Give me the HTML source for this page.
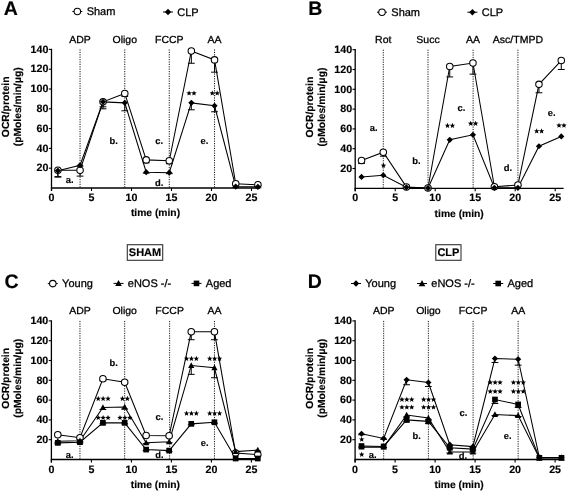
<!DOCTYPE html><html><head><meta charset="utf-8"><style>html,body{margin:0;padding:0;background:#fff;}svg{display:block;font-family:"Liberation Sans", sans-serif;filter:grayscale(1);}text{text-rendering:geometricPrecision;}.r{stroke:#000;stroke-width:0.28px;}text[font-weight=bold]{stroke:#000;stroke-width:0.15px;}</style></head><body>
<svg width="567" height="492" viewBox="0 0 567 492">
<rect width="567" height="492" fill="#fff"/>
<path d="M51.5 48.8V191" stroke="#000" stroke-width="1.3" fill="none"/>
<path d="M50.9 188H259.9" stroke="#000" stroke-width="1.3" fill="none"/>
<path d="M48.8 168.2H51.5" stroke="#000" stroke-width="1.1"/>
<text x="48.4" y="171.4" font-size="10.7" font-weight="bold" text-anchor="end">20</text>
<path d="M48.8 148.4H51.5" stroke="#000" stroke-width="1.1"/>
<text x="48.4" y="151.6" font-size="10.7" font-weight="bold" text-anchor="end">40</text>
<path d="M48.8 128.6H51.5" stroke="#000" stroke-width="1.1"/>
<text x="48.4" y="131.8" font-size="10.7" font-weight="bold" text-anchor="end">60</text>
<path d="M48.8 108.8H51.5" stroke="#000" stroke-width="1.1"/>
<text x="48.4" y="112" font-size="10.7" font-weight="bold" text-anchor="end">80</text>
<path d="M48.8 89H51.5" stroke="#000" stroke-width="1.1"/>
<text x="48.4" y="92.2" font-size="10.7" font-weight="bold" text-anchor="end">100</text>
<path d="M48.8 69.2H51.5" stroke="#000" stroke-width="1.1"/>
<text x="48.4" y="72.4" font-size="10.7" font-weight="bold" text-anchor="end">120</text>
<path d="M48.8 49.4H51.5" stroke="#000" stroke-width="1.1"/>
<text x="48.4" y="52.6" font-size="10.7" font-weight="bold" text-anchor="end">140</text>
<path d="M51.5 188V191" stroke="#000" stroke-width="1.1"/>
<text x="51.5" y="201.1" font-size="10.7" font-weight="bold" text-anchor="middle">0</text>
<path d="M91.5 188V191" stroke="#000" stroke-width="1.1"/>
<text x="91.5" y="201.1" font-size="10.7" font-weight="bold" text-anchor="middle">5</text>
<path d="M131.5 188V191" stroke="#000" stroke-width="1.1"/>
<text x="131.5" y="201.1" font-size="10.7" font-weight="bold" text-anchor="middle">10</text>
<path d="M171.5 188V191" stroke="#000" stroke-width="1.1"/>
<text x="171.5" y="201.1" font-size="10.7" font-weight="bold" text-anchor="middle">15</text>
<path d="M211.5 188V191" stroke="#000" stroke-width="1.1"/>
<text x="211.5" y="201.1" font-size="10.7" font-weight="bold" text-anchor="middle">20</text>
<path d="M251.5 188V191" stroke="#000" stroke-width="1.1"/>
<text x="251.5" y="201.1" font-size="10.7" font-weight="bold" text-anchor="middle">25</text>
<text x="155.5" y="216.3" font-size="10.3" font-weight="bold" text-anchor="middle">time (min)</text>
<text transform="translate(9 106.82) rotate(-90)" font-size="10.3" font-weight="bold" text-anchor="middle">OCR/protein</text>
<text transform="translate(21.3 106.82) rotate(-90)" font-size="10.3" font-weight="bold" text-anchor="middle">(pMoles/min/&#956;g)</text>
<text x="3.8" y="15.4" font-size="19.5" font-weight="bold" text-anchor="start">A</text>
<path d="M80.06 49.4V188" stroke="#000" stroke-width="0.9" stroke-dasharray="1.2 1.2" fill="none"/>
<text transform="translate(80.06 42.5) scale(1.03 1)" font-size="10.2" text-anchor="middle" class="r">ADP</text>
<path d="M124.78 49.4V188" stroke="#000" stroke-width="0.9" stroke-dasharray="1.2 1.2" fill="none"/>
<text transform="translate(124.78 42.5) scale(1.03 1)" font-size="10.2" text-anchor="middle" class="r">Oligo</text>
<path d="M169.26 49.4V188" stroke="#000" stroke-width="0.9" stroke-dasharray="1.2 1.2" fill="none"/>
<text transform="translate(169.26 42.5) scale(1.03 1)" font-size="10.2" text-anchor="middle" class="r">FCCP</text>
<path d="M214.54 49.4V188" stroke="#000" stroke-width="0.9" stroke-dasharray="1.2 1.2" fill="none"/>
<text transform="translate(214.54 42.5) scale(1.03 1)" font-size="10.2" text-anchor="middle" class="r">AA</text>
<path d="M72.35 11.5H82.35" stroke="#000" stroke-width="1"/>
<circle cx="77.35" cy="11.5" r="3.25" fill="#fff" stroke="#000" stroke-width="1.05"/>
<text x="86.65" y="15.1" font-size="11" font-weight="normal" text-anchor="start" class="r">Sham</text>
<path d="M163 12H173" stroke="#000" stroke-width="1"/>
<path d="M168 8.8L171.2 12L168 15.2L164.8 12Z" fill="#000"/>
<text x="177.3" y="15.6" font-size="11" font-weight="normal" text-anchor="start" class="r">CLP</text>
<path d="M57.9 170.18L80.06 170.18L103.02 101.87L124.78 93.45L146.22 159.88L169.26 160.78L191.34 50.98L214.54 59.89L235.74 183.84L257.9 184.83" stroke="#000" stroke-width="1.05" fill="none"/>
<path d="M57.9 170.18V177.11M54.5 177.11H61.3" stroke="#000" stroke-width="1" fill="none"/>
<path d="M80.06 170.18V176.12M76.66 176.12H83.46" stroke="#000" stroke-width="1" fill="none"/>
<path d="M103.02 101.87V108.8M99.62 108.8H106.42" stroke="#000" stroke-width="1" fill="none"/>
<path d="M124.78 93.45V96.42M121.38 96.42H128.18" stroke="#000" stroke-width="1" fill="none"/>
<path d="M146.22 159.88V162.85M142.82 162.85H149.62" stroke="#000" stroke-width="1" fill="none"/>
<path d="M169.26 160.78V163.75M165.86 163.75H172.66" stroke="#000" stroke-width="1" fill="none"/>
<path d="M191.34 50.98V63.26M187.94 63.26H194.74" stroke="#000" stroke-width="1" fill="none"/>
<path d="M214.54 59.89V72.17M211.14 72.17H217.94" stroke="#000" stroke-width="1" fill="none"/>
<path d="M235.74 183.84V184.83M232.34 184.83H239.14" stroke="#000" stroke-width="1" fill="none"/>
<path d="M257.9 184.83V185.82M254.5 185.82H261.3" stroke="#000" stroke-width="1" fill="none"/>
<path d="M57.9 170.68L80.06 165.23L103.02 101.87L124.78 102.86L146.22 172.16L169.26 172.66L191.34 102.86L214.54 105.83L235.74 186.61L257.9 186.81" stroke="#000" stroke-width="1.05" fill="none"/>
<path d="M57.9 170.68V176.62M54.5 176.62H61.3" stroke="#000" stroke-width="1" fill="none"/>
<path d="M80.06 165.23V166.22M76.66 166.22H83.46" stroke="#000" stroke-width="1" fill="none"/>
<path d="M103.02 101.87V106.82M99.62 106.82H106.42" stroke="#000" stroke-width="1" fill="none"/>
<path d="M124.78 102.86V110.78M121.38 110.78H128.18" stroke="#000" stroke-width="1" fill="none"/>
<path d="M146.22 172.16V173.15M142.82 173.15H149.62" stroke="#000" stroke-width="1" fill="none"/>
<path d="M169.26 172.66V173.65M165.86 173.65H172.66" stroke="#000" stroke-width="1" fill="none"/>
<path d="M191.34 102.86V109.79M187.94 109.79H194.74" stroke="#000" stroke-width="1" fill="none"/>
<path d="M214.54 105.83V111.77M211.14 111.77H217.94" stroke="#000" stroke-width="1" fill="none"/>
<path d="M235.74 186.61V187.6M232.34 187.6H239.14" stroke="#000" stroke-width="1" fill="none"/>
<path d="M257.9 186.81V187.8M254.5 187.8H261.3" stroke="#000" stroke-width="1" fill="none"/>
<circle cx="57.9" cy="170.18" r="3.25" fill="#fff" stroke="#000" stroke-width="1.05"/>
<circle cx="80.06" cy="170.18" r="3.25" fill="#fff" stroke="#000" stroke-width="1.05"/>
<circle cx="103.02" cy="101.87" r="3.25" fill="#fff" stroke="#000" stroke-width="1.05"/>
<circle cx="124.78" cy="93.45" r="3.25" fill="#fff" stroke="#000" stroke-width="1.05"/>
<circle cx="146.22" cy="159.88" r="3.25" fill="#fff" stroke="#000" stroke-width="1.05"/>
<circle cx="169.26" cy="160.78" r="3.25" fill="#fff" stroke="#000" stroke-width="1.05"/>
<circle cx="191.34" cy="50.98" r="3.25" fill="#fff" stroke="#000" stroke-width="1.05"/>
<circle cx="214.54" cy="59.89" r="3.25" fill="#fff" stroke="#000" stroke-width="1.05"/>
<circle cx="235.74" cy="183.84" r="3.25" fill="#fff" stroke="#000" stroke-width="1.05"/>
<circle cx="257.9" cy="184.83" r="3.25" fill="#fff" stroke="#000" stroke-width="1.05"/>
<path d="M57.9 167.58L61 170.68L57.9 173.78L54.8 170.68Z" fill="#000"/>
<path d="M80.06 162.13L83.16 165.23L80.06 168.33L76.96 165.23Z" fill="#000"/>
<path d="M103.02 98.77L106.12 101.87L103.02 104.97L99.92 101.87Z" fill="#000"/>
<path d="M124.78 99.76L127.88 102.86L124.78 105.96L121.68 102.86Z" fill="#000"/>
<path d="M146.22 169.06L149.32 172.16L146.22 175.26L143.12 172.16Z" fill="#000"/>
<path d="M169.26 169.56L172.36 172.66L169.26 175.75L166.16 172.66Z" fill="#000"/>
<path d="M191.34 99.76L194.44 102.86L191.34 105.96L188.24 102.86Z" fill="#000"/>
<path d="M214.54 102.73L217.64 105.83L214.54 108.93L211.44 105.83Z" fill="#000"/>
<path d="M235.74 183.51L238.84 186.61L235.74 189.71L232.64 186.61Z" fill="#000"/>
<path d="M257.9 183.71L261 186.81L257.9 189.91L254.8 186.81Z" fill="#000"/>
<path d="M189.09 90.45L189.82 92.29L191.8 92.42L190.28 93.69L190.77 95.61L189.09 94.55L187.41 95.61L187.9 93.69L186.38 92.42L188.36 92.29ZM193.99 90.45L194.72 92.29L196.7 92.42L195.18 93.69L195.67 95.61L193.99 94.55L192.31 95.61L192.8 93.69L191.28 92.42L193.26 92.29Z" fill="#000"/>
<path d="M212.29 90.45L213.02 92.29L215 92.42L213.48 93.69L213.97 95.61L212.29 94.55L210.61 95.61L211.1 93.69L209.58 92.42L211.56 92.29ZM217.19 90.45L217.92 92.29L219.9 92.42L218.38 93.69L218.87 95.61L217.19 94.55L215.51 95.61L216 93.69L214.48 92.42L216.46 92.29Z" fill="#000"/>
<text x="69.6" y="182.5" font-size="9.4" font-weight="bold" text-anchor="middle">a.</text>
<text x="113.6" y="144.3" font-size="9.4" font-weight="bold" text-anchor="middle">b.</text>
<text x="159.2" y="144.3" font-size="9.4" font-weight="bold" text-anchor="middle">c.</text>
<text x="159.2" y="186" font-size="9.4" font-weight="bold" text-anchor="middle">d.</text>
<text x="204.4" y="144" font-size="9.4" font-weight="bold" text-anchor="middle">e.</text>
<path d="M355.2 49.1V191.3" stroke="#000" stroke-width="1.3" fill="none"/>
<path d="M354.6 188.3H563.6" stroke="#000" stroke-width="1.3" fill="none"/>
<path d="M352.5 168.5H355.2" stroke="#000" stroke-width="1.1"/>
<text x="352.1" y="171.7" font-size="10.7" font-weight="bold" text-anchor="end">20</text>
<path d="M352.5 148.7H355.2" stroke="#000" stroke-width="1.1"/>
<text x="352.1" y="151.9" font-size="10.7" font-weight="bold" text-anchor="end">40</text>
<path d="M352.5 128.9H355.2" stroke="#000" stroke-width="1.1"/>
<text x="352.1" y="132.1" font-size="10.7" font-weight="bold" text-anchor="end">60</text>
<path d="M352.5 109.1H355.2" stroke="#000" stroke-width="1.1"/>
<text x="352.1" y="112.3" font-size="10.7" font-weight="bold" text-anchor="end">80</text>
<path d="M352.5 89.3H355.2" stroke="#000" stroke-width="1.1"/>
<text x="352.1" y="92.5" font-size="10.7" font-weight="bold" text-anchor="end">100</text>
<path d="M352.5 69.5H355.2" stroke="#000" stroke-width="1.1"/>
<text x="352.1" y="72.7" font-size="10.7" font-weight="bold" text-anchor="end">120</text>
<path d="M352.5 49.7H355.2" stroke="#000" stroke-width="1.1"/>
<text x="352.1" y="52.9" font-size="10.7" font-weight="bold" text-anchor="end">140</text>
<path d="M355.2 188.3V191.3" stroke="#000" stroke-width="1.1"/>
<text x="355.2" y="201.4" font-size="10.7" font-weight="bold" text-anchor="middle">0</text>
<path d="M395.2 188.3V191.3" stroke="#000" stroke-width="1.1"/>
<text x="395.2" y="201.4" font-size="10.7" font-weight="bold" text-anchor="middle">5</text>
<path d="M435.2 188.3V191.3" stroke="#000" stroke-width="1.1"/>
<text x="435.2" y="201.4" font-size="10.7" font-weight="bold" text-anchor="middle">10</text>
<path d="M475.2 188.3V191.3" stroke="#000" stroke-width="1.1"/>
<text x="475.2" y="201.4" font-size="10.7" font-weight="bold" text-anchor="middle">15</text>
<path d="M515.2 188.3V191.3" stroke="#000" stroke-width="1.1"/>
<text x="515.2" y="201.4" font-size="10.7" font-weight="bold" text-anchor="middle">20</text>
<path d="M555.2 188.3V191.3" stroke="#000" stroke-width="1.1"/>
<text x="555.2" y="201.4" font-size="10.7" font-weight="bold" text-anchor="middle">25</text>
<text x="459.2" y="216.6" font-size="10.3" font-weight="bold" text-anchor="middle">time (min)</text>
<text transform="translate(312.7 107.12) rotate(-90)" font-size="10.3" font-weight="bold" text-anchor="middle">OCR/protein</text>
<text transform="translate(325 107.12) rotate(-90)" font-size="10.3" font-weight="bold" text-anchor="middle">(pMoles/min/&#956;g)</text>
<text x="308.3" y="15.4" font-size="19.5" font-weight="bold" text-anchor="start">B</text>
<path d="M383.28 49.7V188.3" stroke="#000" stroke-width="0.9" stroke-dasharray="1.2 1.2" fill="none"/>
<text transform="translate(383.28 42.5) scale(1.03 1)" font-size="10.2" text-anchor="middle" class="r">Rot</text>
<path d="M428 49.7V188.3" stroke="#000" stroke-width="0.9" stroke-dasharray="1.2 1.2" fill="none"/>
<text transform="translate(428 42.5) scale(1.03 1)" font-size="10.2" text-anchor="middle" class="r">Succ</text>
<path d="M473.12 49.7V188.3" stroke="#000" stroke-width="0.9" stroke-dasharray="1.2 1.2" fill="none"/>
<text transform="translate(473.12 42.5) scale(1.03 1)" font-size="10.2" text-anchor="middle" class="r">AA</text>
<path d="M517.92 49.7V188.3" stroke="#000" stroke-width="0.9" stroke-dasharray="1.2 1.2" fill="none"/>
<text transform="translate(517.92 42.5) scale(1.03 1)" font-size="10.2" text-anchor="middle" class="r">Asc/TMPD</text>
<path d="M377 12.2H387" stroke="#000" stroke-width="1"/>
<circle cx="382" cy="12.2" r="3.25" fill="#fff" stroke="#000" stroke-width="1.05"/>
<text x="391.3" y="15.8" font-size="11" font-weight="normal" text-anchor="start" class="r">Sham</text>
<path d="M467.4 12.2H477.4" stroke="#000" stroke-width="1"/>
<path d="M472.4 9L475.6 12.2L472.4 15.4L469.2 12.2Z" fill="#000"/>
<text x="481.7" y="15.8" font-size="11" font-weight="normal" text-anchor="start" class="r">CLP</text>
<path d="M361.52 160.58L383.28 152.26L406.4 186.91L428 188L449.76 66.43L472.96 62.97L494.4 186.81L517.92 185.03L538.96 84.35L561.28 60.59" stroke="#000" stroke-width="1.05" fill="none"/>
<path d="M361.52 160.58V163.55M358.12 163.55H364.92" stroke="#000" stroke-width="1" fill="none"/>
<path d="M383.28 152.26V156.22M379.88 156.22H386.68" stroke="#000" stroke-width="1" fill="none"/>
<path d="M406.4 186.91V187.41M403 187.41H409.8" stroke="#000" stroke-width="1" fill="none"/>
<path d="M428 188V188.5M424.6 188.5H431.4" stroke="#000" stroke-width="1" fill="none"/>
<path d="M449.76 66.43V76.93M446.36 76.93H453.16" stroke="#000" stroke-width="1" fill="none"/>
<path d="M472.96 62.97V74.15M469.56 74.15H476.36" stroke="#000" stroke-width="1" fill="none"/>
<path d="M494.4 186.81V187.31M491 187.31H497.8" stroke="#000" stroke-width="1" fill="none"/>
<path d="M517.92 185.03V185.53M514.52 185.53H521.32" stroke="#000" stroke-width="1" fill="none"/>
<path d="M538.96 84.35V92.77M535.56 92.77H542.36" stroke="#000" stroke-width="1" fill="none"/>
<path d="M561.28 60.59V69.5M557.88 69.5H564.68" stroke="#000" stroke-width="1" fill="none"/>
<path d="M361.52 176.92L383.28 175.23L406.4 187.31L428 188.1L449.76 139.79L472.96 134.84L494.4 187.81L517.92 187.81L538.96 146.23L561.28 136.42" stroke="#000" stroke-width="1.05" fill="none"/>
<circle cx="361.52" cy="160.58" r="3.25" fill="#fff" stroke="#000" stroke-width="1.05"/>
<circle cx="383.28" cy="152.26" r="3.25" fill="#fff" stroke="#000" stroke-width="1.05"/>
<circle cx="406.4" cy="186.91" r="3.25" fill="#fff" stroke="#000" stroke-width="1.05"/>
<circle cx="428" cy="188" r="3.25" fill="#fff" stroke="#000" stroke-width="1.05"/>
<circle cx="449.76" cy="66.43" r="3.25" fill="#fff" stroke="#000" stroke-width="1.05"/>
<circle cx="472.96" cy="62.97" r="3.25" fill="#fff" stroke="#000" stroke-width="1.05"/>
<circle cx="494.4" cy="186.81" r="3.25" fill="#fff" stroke="#000" stroke-width="1.05"/>
<circle cx="517.92" cy="185.03" r="3.25" fill="#fff" stroke="#000" stroke-width="1.05"/>
<circle cx="538.96" cy="84.35" r="3.25" fill="#fff" stroke="#000" stroke-width="1.05"/>
<circle cx="561.28" cy="60.59" r="3.25" fill="#fff" stroke="#000" stroke-width="1.05"/>
<path d="M361.52 173.82L364.62 176.92L361.52 180.02L358.42 176.92Z" fill="#000"/>
<path d="M383.28 172.13L386.38 175.23L383.28 178.33L380.18 175.23Z" fill="#000"/>
<path d="M406.4 184.21L409.5 187.31L406.4 190.41L403.3 187.31Z" fill="#000"/>
<path d="M428 185L431.1 188.1L428 191.2L424.9 188.1Z" fill="#000"/>
<path d="M449.76 136.69L452.86 139.79L449.76 142.89L446.66 139.79Z" fill="#000"/>
<path d="M472.96 131.74L476.06 134.84L472.96 137.94L469.86 134.84Z" fill="#000"/>
<path d="M494.4 184.71L497.5 187.81L494.4 190.91L491.3 187.81Z" fill="#000"/>
<path d="M517.92 184.71L521.02 187.81L517.92 190.91L514.82 187.81Z" fill="#000"/>
<path d="M538.96 143.13L542.06 146.23L538.96 149.33L535.86 146.23Z" fill="#000"/>
<path d="M561.28 133.32L564.38 136.42L561.28 139.52L558.18 136.42Z" fill="#000"/>
<path d="M383.48 162.75L384.21 164.59L386.19 164.72L384.67 165.99L385.16 167.91L383.48 166.85L381.8 167.91L382.29 165.99L380.77 164.72L382.75 164.59Z" fill="#000"/>
<path d="M447.51 122.85L448.24 124.69L450.22 124.82L448.7 126.09L449.19 128.01L447.51 126.95L445.83 128.01L446.32 126.09L444.8 124.82L446.78 124.69ZM452.41 122.85L453.14 124.69L455.12 124.82L453.6 126.09L454.09 128.01L452.41 126.95L450.73 128.01L451.22 126.09L449.7 124.82L451.68 124.69Z" fill="#000"/>
<path d="M470.71 120.75L471.44 122.59L473.42 122.72L471.9 123.99L472.39 125.91L470.71 124.85L469.03 125.91L469.52 123.99L468 122.72L469.98 122.59ZM475.61 120.75L476.34 122.59L478.32 122.72L476.8 123.99L477.29 125.91L475.61 124.85L473.93 125.91L474.42 123.99L472.9 122.72L474.88 122.59Z" fill="#000"/>
<path d="M536.71 128.35L537.44 130.19L539.42 130.32L537.9 131.59L538.39 133.51L536.71 132.45L535.03 133.51L535.52 131.59L534 130.32L535.98 130.19ZM541.61 128.35L542.34 130.19L544.32 130.32L542.8 131.59L543.29 133.51L541.61 132.45L539.93 133.51L540.42 131.59L538.9 130.32L540.88 130.19Z" fill="#000"/>
<path d="M559.03 122.65L559.76 124.49L561.74 124.62L560.22 125.89L560.71 127.81L559.03 126.75L557.35 127.81L557.84 125.89L556.32 124.62L558.3 124.49ZM563.93 122.65L564.66 124.49L566.64 124.62L565.12 125.89L565.61 127.81L563.93 126.75L562.25 127.81L562.74 125.89L561.22 124.62L563.2 124.49Z" fill="#000"/>
<text x="373.7" y="130.9" font-size="9.4" font-weight="bold" text-anchor="middle">a.</text>
<text x="416.4" y="163.7" font-size="9.4" font-weight="bold" text-anchor="middle">b.</text>
<text x="461.4" y="111" font-size="9.4" font-weight="bold" text-anchor="middle">c.</text>
<text x="508" y="171.4" font-size="9.4" font-weight="bold" text-anchor="middle">d.</text>
<text x="551.6" y="115.6" font-size="9.4" font-weight="bold" text-anchor="middle">e.</text>
<rect x="127.3" y="244.7" width="35.4" height="15.6" fill="#fff" stroke="#333" stroke-width="1.1"/>
<text x="145" y="256.4" font-size="11" font-weight="bold" text-anchor="middle">SHAM</text>
<rect x="435.8" y="244.7" width="25.2" height="15.6" fill="#fff" stroke="#333" stroke-width="1.1"/>
<text x="448.4" y="256.4" font-size="11" font-weight="bold" text-anchor="middle">CLP</text>
<path d="M51.4 320.3V462.5" stroke="#000" stroke-width="1.3" fill="none"/>
<path d="M50.8 459.5H259.8" stroke="#000" stroke-width="1.3" fill="none"/>
<path d="M48.7 439.7H51.4" stroke="#000" stroke-width="1.1"/>
<text x="48.3" y="442.9" font-size="10.7" font-weight="bold" text-anchor="end">20</text>
<path d="M48.7 419.9H51.4" stroke="#000" stroke-width="1.1"/>
<text x="48.3" y="423.1" font-size="10.7" font-weight="bold" text-anchor="end">40</text>
<path d="M48.7 400.1H51.4" stroke="#000" stroke-width="1.1"/>
<text x="48.3" y="403.3" font-size="10.7" font-weight="bold" text-anchor="end">60</text>
<path d="M48.7 380.3H51.4" stroke="#000" stroke-width="1.1"/>
<text x="48.3" y="383.5" font-size="10.7" font-weight="bold" text-anchor="end">80</text>
<path d="M48.7 360.5H51.4" stroke="#000" stroke-width="1.1"/>
<text x="48.3" y="363.7" font-size="10.7" font-weight="bold" text-anchor="end">100</text>
<path d="M48.7 340.7H51.4" stroke="#000" stroke-width="1.1"/>
<text x="48.3" y="343.9" font-size="10.7" font-weight="bold" text-anchor="end">120</text>
<path d="M48.7 320.9H51.4" stroke="#000" stroke-width="1.1"/>
<text x="48.3" y="324.1" font-size="10.7" font-weight="bold" text-anchor="end">140</text>
<path d="M51.4 459.5V462.5" stroke="#000" stroke-width="1.1"/>
<text x="51.4" y="472.6" font-size="10.7" font-weight="bold" text-anchor="middle">0</text>
<path d="M91.4 459.5V462.5" stroke="#000" stroke-width="1.1"/>
<text x="91.4" y="472.6" font-size="10.7" font-weight="bold" text-anchor="middle">5</text>
<path d="M131.4 459.5V462.5" stroke="#000" stroke-width="1.1"/>
<text x="131.4" y="472.6" font-size="10.7" font-weight="bold" text-anchor="middle">10</text>
<path d="M171.4 459.5V462.5" stroke="#000" stroke-width="1.1"/>
<text x="171.4" y="472.6" font-size="10.7" font-weight="bold" text-anchor="middle">15</text>
<path d="M211.4 459.5V462.5" stroke="#000" stroke-width="1.1"/>
<text x="211.4" y="472.6" font-size="10.7" font-weight="bold" text-anchor="middle">20</text>
<path d="M251.4 459.5V462.5" stroke="#000" stroke-width="1.1"/>
<text x="251.4" y="472.6" font-size="10.7" font-weight="bold" text-anchor="middle">25</text>
<text x="155.4" y="488.4" font-size="10.3" font-weight="bold" text-anchor="middle">time (min)</text>
<text transform="translate(8.9 378.32) rotate(-90)" font-size="10.3" font-weight="bold" text-anchor="middle">OCR/protein</text>
<text transform="translate(21.2 378.32) rotate(-90)" font-size="10.3" font-weight="bold" text-anchor="middle">(pMoles/min/&#956;g)</text>
<text x="4.6" y="287.5" font-size="19.5" font-weight="bold" text-anchor="start">C</text>
<path d="M79.96 320.9V459.5" stroke="#000" stroke-width="0.9" stroke-dasharray="1.2 1.2" fill="none"/>
<text transform="translate(79.96 314.1) scale(1.03 1)" font-size="10.2" text-anchor="middle" class="r">ADP</text>
<path d="M124.68 320.9V459.5" stroke="#000" stroke-width="0.9" stroke-dasharray="1.2 1.2" fill="none"/>
<text transform="translate(124.68 314.1) scale(1.03 1)" font-size="10.2" text-anchor="middle" class="r">Oligo</text>
<path d="M169.64 320.9V459.5" stroke="#000" stroke-width="0.9" stroke-dasharray="1.2 1.2" fill="none"/>
<text transform="translate(169.64 314.1) scale(1.03 1)" font-size="10.2" text-anchor="middle" class="r">FCCP</text>
<path d="M214.44 320.9V459.5" stroke="#000" stroke-width="0.9" stroke-dasharray="1.2 1.2" fill="none"/>
<text transform="translate(214.44 314.1) scale(1.03 1)" font-size="10.2" text-anchor="middle" class="r">AA</text>
<path d="M47.8 283.6H57.8" stroke="#000" stroke-width="1"/>
<circle cx="52.8" cy="283.6" r="3.25" fill="#fff" stroke="#000" stroke-width="1.05"/>
<text x="62.1" y="287.2" font-size="11" font-weight="normal" text-anchor="start" class="r">Young</text>
<path d="M113.5 283.4H123.5" stroke="#000" stroke-width="1"/>
<path d="M118.5 279.94L121.8 286.04L115.2 286.04Z" fill="#000"/>
<text x="127.8" y="287" font-size="11" font-weight="normal" text-anchor="start" class="r">eNOS -/-</text>
<path d="M191.5 283.4H201.5" stroke="#000" stroke-width="1"/>
<rect x="193.7" y="280.6" width="5.6" height="5.6" fill="#000"/>
<text x="205.8" y="287" font-size="11" font-weight="normal" text-anchor="start" class="r">Aged</text>
<path d="M57.8 434.75L79.96 437.72L102.92 378.81L124.68 382.28L146.12 435.54L169.16 435.74L191.24 331.79L214.44 331.79L235.64 453.06L257.8 454.55" stroke="#000" stroke-width="1.05" fill="none"/>
<path d="M57.8 434.75V435.74M54.4 435.74H61.2" stroke="#000" stroke-width="1" fill="none"/>
<path d="M79.96 437.72V438.71M76.56 438.71H83.36" stroke="#000" stroke-width="1" fill="none"/>
<path d="M102.92 378.81V380.8M99.52 380.8H106.32" stroke="#000" stroke-width="1" fill="none"/>
<path d="M124.68 382.28V383.27M121.28 383.27H128.08" stroke="#000" stroke-width="1" fill="none"/>
<path d="M146.12 435.54V436.53M142.72 436.53H149.52" stroke="#000" stroke-width="1" fill="none"/>
<path d="M169.16 435.74V436.73M165.76 436.73H172.56" stroke="#000" stroke-width="1" fill="none"/>
<path d="M191.24 331.79V339.71M187.84 339.71H194.64" stroke="#000" stroke-width="1" fill="none"/>
<path d="M214.44 331.79V339.71M211.04 339.71H217.84" stroke="#000" stroke-width="1" fill="none"/>
<path d="M235.64 453.06V454.06M232.24 454.06H239.04" stroke="#000" stroke-width="1" fill="none"/>
<path d="M257.8 454.55V455.54M254.4 455.54H261.2" stroke="#000" stroke-width="1" fill="none"/>
<path d="M57.8 441.19L79.96 440.69L102.92 407.52L124.68 407.03L146.12 442.67L169.16 441.68L191.24 365.45L214.44 367.83L235.64 451.58L257.8 450.1" stroke="#000" stroke-width="1.05" fill="none"/>
<path d="M57.8 441.19V442.18M54.4 442.18H61.2" stroke="#000" stroke-width="1" fill="none"/>
<path d="M79.96 440.69V441.68M76.56 441.68H83.36" stroke="#000" stroke-width="1" fill="none"/>
<path d="M102.92 407.52V409.5M99.52 409.5H106.32" stroke="#000" stroke-width="1" fill="none"/>
<path d="M124.68 407.03V409.01M121.28 409.01H128.08" stroke="#000" stroke-width="1" fill="none"/>
<path d="M146.12 442.67V443.66M142.72 443.66H149.52" stroke="#000" stroke-width="1" fill="none"/>
<path d="M169.16 441.68V442.67M165.76 442.67H172.56" stroke="#000" stroke-width="1" fill="none"/>
<path d="M191.24 365.45V374.36M187.84 374.36H194.64" stroke="#000" stroke-width="1" fill="none"/>
<path d="M214.44 367.83V377.73M211.04 377.73H217.84" stroke="#000" stroke-width="1" fill="none"/>
<path d="M235.64 451.58V452.57M232.24 452.57H239.04" stroke="#000" stroke-width="1" fill="none"/>
<path d="M257.8 450.1V451.09M254.4 451.09H261.2" stroke="#000" stroke-width="1" fill="none"/>
<path d="M57.8 442.87L79.96 442.18L102.92 422.87L124.68 422.87L146.12 449.6L169.16 450.59L191.24 423.86L214.44 422.28L235.64 458.51L257.8 458.51" stroke="#000" stroke-width="1.05" fill="none"/>
<path d="M57.8 442.87V443.86M54.4 443.86H61.2" stroke="#000" stroke-width="1" fill="none"/>
<path d="M79.96 442.18V443.17M76.56 443.17H83.36" stroke="#000" stroke-width="1" fill="none"/>
<path d="M102.92 422.87V423.86M99.52 423.86H106.32" stroke="#000" stroke-width="1" fill="none"/>
<path d="M124.68 422.87V423.86M121.28 423.86H128.08" stroke="#000" stroke-width="1" fill="none"/>
<path d="M146.12 449.6V450.59M142.72 450.59H149.52" stroke="#000" stroke-width="1" fill="none"/>
<path d="M169.16 450.59V451.58M165.76 451.58H172.56" stroke="#000" stroke-width="1" fill="none"/>
<path d="M191.24 423.86V424.85M187.84 424.85H194.64" stroke="#000" stroke-width="1" fill="none"/>
<path d="M214.44 422.28V423.27M211.04 423.27H217.84" stroke="#000" stroke-width="1" fill="none"/>
<circle cx="57.8" cy="434.75" r="3.25" fill="#fff" stroke="#000" stroke-width="1.05"/>
<circle cx="79.96" cy="437.72" r="3.25" fill="#fff" stroke="#000" stroke-width="1.05"/>
<circle cx="102.92" cy="378.81" r="3.25" fill="#fff" stroke="#000" stroke-width="1.05"/>
<circle cx="124.68" cy="382.28" r="3.25" fill="#fff" stroke="#000" stroke-width="1.05"/>
<circle cx="146.12" cy="435.54" r="3.25" fill="#fff" stroke="#000" stroke-width="1.05"/>
<circle cx="169.16" cy="435.74" r="3.25" fill="#fff" stroke="#000" stroke-width="1.05"/>
<circle cx="191.24" cy="331.79" r="3.25" fill="#fff" stroke="#000" stroke-width="1.05"/>
<circle cx="214.44" cy="331.79" r="3.25" fill="#fff" stroke="#000" stroke-width="1.05"/>
<circle cx="235.64" cy="453.06" r="3.25" fill="#fff" stroke="#000" stroke-width="1.05"/>
<circle cx="257.8" cy="454.55" r="3.25" fill="#fff" stroke="#000" stroke-width="1.05"/>
<path d="M57.8 437.93L60.9 443.67L54.7 443.67Z" fill="#000"/>
<path d="M79.96 437.44L83.06 443.17L76.86 443.17Z" fill="#000"/>
<path d="M102.92 404.27L106.02 410L99.82 410Z" fill="#000"/>
<path d="M124.68 403.77L127.78 409.51L121.58 409.51Z" fill="#000"/>
<path d="M146.12 439.42L149.22 445.15L143.02 445.15Z" fill="#000"/>
<path d="M169.16 438.43L172.26 444.16L166.06 444.16Z" fill="#000"/>
<path d="M191.24 362.19L194.34 367.93L188.14 367.93Z" fill="#000"/>
<path d="M214.44 364.57L217.54 370.31L211.34 370.31Z" fill="#000"/>
<path d="M235.64 448.32L238.74 454.06L232.54 454.06Z" fill="#000"/>
<path d="M257.8 446.84L260.9 452.58L254.7 452.58Z" fill="#000"/>
<rect x="54.95" y="440.02" width="5.7" height="5.7" fill="#000"/>
<rect x="77.11" y="439.32" width="5.7" height="5.7" fill="#000"/>
<rect x="100.07" y="420.02" width="5.7" height="5.7" fill="#000"/>
<rect x="121.83" y="420.02" width="5.7" height="5.7" fill="#000"/>
<rect x="143.27" y="446.75" width="5.7" height="5.7" fill="#000"/>
<rect x="166.31" y="447.74" width="5.7" height="5.7" fill="#000"/>
<rect x="188.39" y="421.01" width="5.7" height="5.7" fill="#000"/>
<rect x="211.59" y="419.43" width="5.7" height="5.7" fill="#000"/>
<rect x="232.79" y="455.66" width="5.7" height="5.7" fill="#000"/>
<rect x="254.95" y="455.66" width="5.7" height="5.7" fill="#000"/>
<path d="M98.22 395.85L98.95 397.69L100.93 397.82L99.41 399.09L99.9 401.01L98.22 399.95L96.54 401.01L97.03 399.09L95.51 397.82L97.49 397.69ZM103.12 395.85L103.85 397.69L105.83 397.82L104.31 399.09L104.8 401.01L103.12 399.95L101.44 401.01L101.93 399.09L100.41 397.82L102.39 397.69ZM108.02 395.85L108.75 397.69L110.73 397.82L109.21 399.09L109.7 401.01L108.02 399.95L106.34 401.01L106.83 399.09L105.31 397.82L107.29 397.69Z" fill="#000"/>
<path d="M122.43 395.85L123.16 397.69L125.14 397.82L123.62 399.09L124.11 401.01L122.43 399.95L120.75 401.01L121.24 399.09L119.72 397.82L121.7 397.69ZM127.33 395.85L128.06 397.69L130.04 397.82L128.52 399.09L129.01 401.01L127.33 399.95L125.65 401.01L126.14 399.09L124.62 397.82L126.6 397.69Z" fill="#000"/>
<path d="M98.22 414.95L98.95 416.79L100.93 416.92L99.41 418.19L99.9 420.11L98.22 419.05L96.54 420.11L97.03 418.19L95.51 416.92L97.49 416.79ZM103.12 414.95L103.85 416.79L105.83 416.92L104.31 418.19L104.8 420.11L103.12 419.05L101.44 420.11L101.93 418.19L100.41 416.92L102.39 416.79ZM108.02 414.95L108.75 416.79L110.73 416.92L109.21 418.19L109.7 420.11L108.02 419.05L106.34 420.11L106.83 418.19L105.31 416.92L107.29 416.79Z" fill="#000"/>
<path d="M119.98 414.95L120.71 416.79L122.69 416.92L121.17 418.19L121.66 420.11L119.98 419.05L118.3 420.11L118.79 418.19L117.27 416.92L119.25 416.79ZM124.88 414.95L125.61 416.79L127.59 416.92L126.07 418.19L126.56 420.11L124.88 419.05L123.2 420.11L123.69 418.19L122.17 416.92L124.15 416.79ZM129.78 414.95L130.51 416.79L132.49 416.92L130.97 418.19L131.46 420.11L129.78 419.05L128.1 420.11L128.59 418.19L127.07 416.92L129.05 416.79Z" fill="#000"/>
<path d="M186.54 355.85L187.27 357.69L189.25 357.82L187.73 359.09L188.22 361.01L186.54 359.95L184.86 361.01L185.35 359.09L183.83 357.82L185.81 357.69ZM191.44 355.85L192.17 357.69L194.15 357.82L192.63 359.09L193.12 361.01L191.44 359.95L189.76 361.01L190.25 359.09L188.73 357.82L190.71 357.69ZM196.34 355.85L197.07 357.69L199.05 357.82L197.53 359.09L198.02 361.01L196.34 359.95L194.66 361.01L195.15 359.09L193.63 357.82L195.61 357.69Z" fill="#000"/>
<path d="M209.74 355.85L210.47 357.69L212.45 357.82L210.93 359.09L211.42 361.01L209.74 359.95L208.06 361.01L208.55 359.09L207.03 357.82L209.01 357.69ZM214.64 355.85L215.37 357.69L217.35 357.82L215.83 359.09L216.32 361.01L214.64 359.95L212.96 361.01L213.45 359.09L211.93 357.82L213.91 357.69ZM219.54 355.85L220.27 357.69L222.25 357.82L220.73 359.09L221.22 361.01L219.54 359.95L217.86 361.01L218.35 359.09L216.83 357.82L218.81 357.69Z" fill="#000"/>
<path d="M186.54 410.55L187.27 412.39L189.25 412.52L187.73 413.79L188.22 415.71L186.54 414.65L184.86 415.71L185.35 413.79L183.83 412.52L185.81 412.39ZM191.44 410.55L192.17 412.39L194.15 412.52L192.63 413.79L193.12 415.71L191.44 414.65L189.76 415.71L190.25 413.79L188.73 412.52L190.71 412.39ZM196.34 410.55L197.07 412.39L199.05 412.52L197.53 413.79L198.02 415.71L196.34 414.65L194.66 415.71L195.15 413.79L193.63 412.52L195.61 412.39Z" fill="#000"/>
<path d="M209.74 410.55L210.47 412.39L212.45 412.52L210.93 413.79L211.42 415.71L209.74 414.65L208.06 415.71L208.55 413.79L207.03 412.52L209.01 412.39ZM214.64 410.55L215.37 412.39L217.35 412.52L215.83 413.79L216.32 415.71L214.64 414.65L212.96 415.71L213.45 413.79L211.93 412.52L213.91 412.39ZM219.54 410.55L220.27 412.39L222.25 412.52L220.73 413.79L221.22 415.71L219.54 414.65L217.86 415.71L218.35 413.79L216.83 412.52L218.81 412.39Z" fill="#000"/>
<text x="69.6" y="458.3" font-size="9.4" font-weight="bold" text-anchor="middle">a.</text>
<text x="113.6" y="366.3" font-size="9.4" font-weight="bold" text-anchor="middle">b.</text>
<text x="159.4" y="419.9" font-size="9.4" font-weight="bold" text-anchor="middle">c.</text>
<text x="159.4" y="457.8" font-size="9.4" font-weight="bold" text-anchor="middle">d.</text>
<text x="204.7" y="446.3" font-size="9.4" font-weight="bold" text-anchor="middle">e.</text>
<path d="M355.1 320.3V462.5" stroke="#000" stroke-width="1.3" fill="none"/>
<path d="M354.5 459.5H563.5" stroke="#000" stroke-width="1.3" fill="none"/>
<path d="M352.4 439.7H355.1" stroke="#000" stroke-width="1.1"/>
<text x="352" y="442.9" font-size="10.7" font-weight="bold" text-anchor="end">20</text>
<path d="M352.4 419.9H355.1" stroke="#000" stroke-width="1.1"/>
<text x="352" y="423.1" font-size="10.7" font-weight="bold" text-anchor="end">40</text>
<path d="M352.4 400.1H355.1" stroke="#000" stroke-width="1.1"/>
<text x="352" y="403.3" font-size="10.7" font-weight="bold" text-anchor="end">60</text>
<path d="M352.4 380.3H355.1" stroke="#000" stroke-width="1.1"/>
<text x="352" y="383.5" font-size="10.7" font-weight="bold" text-anchor="end">80</text>
<path d="M352.4 360.5H355.1" stroke="#000" stroke-width="1.1"/>
<text x="352" y="363.7" font-size="10.7" font-weight="bold" text-anchor="end">100</text>
<path d="M352.4 340.7H355.1" stroke="#000" stroke-width="1.1"/>
<text x="352" y="343.9" font-size="10.7" font-weight="bold" text-anchor="end">120</text>
<path d="M352.4 320.9H355.1" stroke="#000" stroke-width="1.1"/>
<text x="352" y="324.1" font-size="10.7" font-weight="bold" text-anchor="end">140</text>
<path d="M355.1 459.5V462.5" stroke="#000" stroke-width="1.1"/>
<text x="355.1" y="472.6" font-size="10.7" font-weight="bold" text-anchor="middle">0</text>
<path d="M395.1 459.5V462.5" stroke="#000" stroke-width="1.1"/>
<text x="395.1" y="472.6" font-size="10.7" font-weight="bold" text-anchor="middle">5</text>
<path d="M435.1 459.5V462.5" stroke="#000" stroke-width="1.1"/>
<text x="435.1" y="472.6" font-size="10.7" font-weight="bold" text-anchor="middle">10</text>
<path d="M475.1 459.5V462.5" stroke="#000" stroke-width="1.1"/>
<text x="475.1" y="472.6" font-size="10.7" font-weight="bold" text-anchor="middle">15</text>
<path d="M515.1 459.5V462.5" stroke="#000" stroke-width="1.1"/>
<text x="515.1" y="472.6" font-size="10.7" font-weight="bold" text-anchor="middle">20</text>
<path d="M555.1 459.5V462.5" stroke="#000" stroke-width="1.1"/>
<text x="555.1" y="472.6" font-size="10.7" font-weight="bold" text-anchor="middle">25</text>
<text x="459.1" y="488.4" font-size="10.3" font-weight="bold" text-anchor="middle">time (min)</text>
<text transform="translate(312.6 378.32) rotate(-90)" font-size="10.3" font-weight="bold" text-anchor="middle">OCR/protein</text>
<text transform="translate(324.9 378.32) rotate(-90)" font-size="10.3" font-weight="bold" text-anchor="middle">(pMoles/min/&#956;g)</text>
<text x="307.8" y="287.5" font-size="19.5" font-weight="bold" text-anchor="start">D</text>
<path d="M383.66 320.9V459.5" stroke="#000" stroke-width="0.9" stroke-dasharray="1.2 1.2" fill="none"/>
<text transform="translate(383.66 314.1) scale(1.03 1)" font-size="10.2" text-anchor="middle" class="r">ADP</text>
<path d="M428.38 320.9V459.5" stroke="#000" stroke-width="0.9" stroke-dasharray="1.2 1.2" fill="none"/>
<text transform="translate(428.38 314.1) scale(1.03 1)" font-size="10.2" text-anchor="middle" class="r">Oligo</text>
<path d="M473.1 320.9V459.5" stroke="#000" stroke-width="0.9" stroke-dasharray="1.2 1.2" fill="none"/>
<text transform="translate(473.1 314.1) scale(1.03 1)" font-size="10.2" text-anchor="middle" class="r">FCCP</text>
<path d="M518.14 320.9V459.5" stroke="#000" stroke-width="0.9" stroke-dasharray="1.2 1.2" fill="none"/>
<text transform="translate(518.14 314.1) scale(1.03 1)" font-size="10.2" text-anchor="middle" class="r">AA</text>
<path d="M351 283.5H361" stroke="#000" stroke-width="1"/>
<path d="M356 280.3L359.2 283.5L356 286.7L352.8 283.5Z" fill="#000"/>
<text x="365.3" y="287.1" font-size="11" font-weight="normal" text-anchor="start" class="r">Young</text>
<path d="M417 283.5H427" stroke="#000" stroke-width="1"/>
<path d="M422 280.04L425.3 286.14L418.7 286.14Z" fill="#000"/>
<text x="431.3" y="287.1" font-size="11" font-weight="normal" text-anchor="start" class="r">eNOS -/-</text>
<path d="M493.2 283.5H503.2" stroke="#000" stroke-width="1"/>
<rect x="495.4" y="280.7" width="5.6" height="5.6" fill="#000"/>
<text x="507.5" y="287.1" font-size="11" font-weight="normal" text-anchor="start" class="r">Aged</text>
<path d="M361.5 433.76L383.66 438.41L406.62 379.81L428.38 382.48L449.82 444.65L472.86 446.63L494.94 358.52L518.14 359.21L539.34 457.52L561.5 457.52" stroke="#000" stroke-width="1.05" fill="none"/>
<path d="M361.5 433.76V434.75M358.1 434.75H364.9" stroke="#000" stroke-width="1" fill="none"/>
<path d="M383.66 438.41V439.4M380.26 439.4H387.06" stroke="#000" stroke-width="1" fill="none"/>
<path d="M406.62 379.81V384.75M403.22 384.75H410.02" stroke="#000" stroke-width="1" fill="none"/>
<path d="M428.38 382.48V386.44M424.98 386.44H431.78" stroke="#000" stroke-width="1" fill="none"/>
<path d="M449.82 444.65V445.64M446.42 445.64H453.22" stroke="#000" stroke-width="1" fill="none"/>
<path d="M472.86 446.63V447.62M469.46 447.62H476.26" stroke="#000" stroke-width="1" fill="none"/>
<path d="M494.94 358.52V362.48M491.54 362.48H498.34" stroke="#000" stroke-width="1" fill="none"/>
<path d="M518.14 359.21V365.15M514.74 365.15H521.54" stroke="#000" stroke-width="1" fill="none"/>
<path d="M361.5 447.12L383.66 447.12L406.62 414.95L428.38 417.92L449.82 452.07L472.86 452.07L494.94 414.55L518.14 415.54L539.34 458.01L561.5 458.01" stroke="#000" stroke-width="1.05" fill="none"/>
<path d="M406.62 414.95V416.93M403.22 416.93H410.02" stroke="#000" stroke-width="1" fill="none"/>
<path d="M428.38 417.92V419.9M424.98 419.9H431.78" stroke="#000" stroke-width="1" fill="none"/>
<path d="M449.82 452.07V453.06M446.42 453.06H453.22" stroke="#000" stroke-width="1" fill="none"/>
<path d="M472.86 452.07V453.06M469.46 453.06H476.26" stroke="#000" stroke-width="1" fill="none"/>
<path d="M494.94 414.55V415.54M491.54 415.54H498.34" stroke="#000" stroke-width="1" fill="none"/>
<path d="M518.14 415.54V416.53M514.74 416.53H521.54" stroke="#000" stroke-width="1" fill="none"/>
<path d="M361.5 446.04L383.66 446.43L406.62 419.9L428.38 421.38L449.82 447.82L472.86 449.11L494.94 399.51L518.14 404.46L539.34 457.82L561.5 457.82" stroke="#000" stroke-width="1.05" fill="none"/>
<path d="M361.5 446.04V447.03M358.1 447.03H364.9" stroke="#000" stroke-width="1" fill="none"/>
<path d="M383.66 446.43V447.42M380.26 447.42H387.06" stroke="#000" stroke-width="1" fill="none"/>
<path d="M406.62 419.9V421.88M403.22 421.88H410.02" stroke="#000" stroke-width="1" fill="none"/>
<path d="M428.38 421.38V423.37M424.98 423.37H431.78" stroke="#000" stroke-width="1" fill="none"/>
<path d="M449.82 447.82V448.81M446.42 448.81H453.22" stroke="#000" stroke-width="1" fill="none"/>
<path d="M472.86 449.11V450.1M469.46 450.1H476.26" stroke="#000" stroke-width="1" fill="none"/>
<path d="M494.94 399.51V403.47M491.54 403.47H498.34" stroke="#000" stroke-width="1" fill="none"/>
<path d="M518.14 404.46V407.43M514.74 407.43H521.54" stroke="#000" stroke-width="1" fill="none"/>
<path d="M361.5 430.66L364.6 433.76L361.5 436.86L358.4 433.76Z" fill="#000"/>
<path d="M383.66 435.31L386.76 438.41L383.66 441.51L380.56 438.41Z" fill="#000"/>
<path d="M406.62 376.7L409.72 379.81L406.62 382.91L403.52 379.81Z" fill="#000"/>
<path d="M428.38 379.38L431.48 382.48L428.38 385.58L425.28 382.48Z" fill="#000"/>
<path d="M449.82 441.55L452.92 444.65L449.82 447.75L446.72 444.65Z" fill="#000"/>
<path d="M472.86 443.53L475.96 446.63L472.86 449.73L469.76 446.63Z" fill="#000"/>
<path d="M494.94 355.42L498.04 358.52L494.94 361.62L491.84 358.52Z" fill="#000"/>
<path d="M518.14 356.11L521.24 359.21L518.14 362.31L515.04 359.21Z" fill="#000"/>
<path d="M539.34 454.42L542.44 457.52L539.34 460.62L536.24 457.52Z" fill="#000"/>
<path d="M561.5 454.42L564.6 457.52L561.5 460.62L558.4 457.52Z" fill="#000"/>
<path d="M361.5 443.87L364.6 449.61L358.4 449.61Z" fill="#000"/>
<path d="M383.66 443.87L386.76 449.61L380.56 449.61Z" fill="#000"/>
<path d="M406.62 411.69L409.72 417.43L403.52 417.43Z" fill="#000"/>
<path d="M428.38 414.67L431.48 420.4L425.28 420.4Z" fill="#000"/>
<path d="M449.82 448.82L452.92 454.56L446.72 454.56Z" fill="#000"/>
<path d="M472.86 448.82L475.96 454.56L469.76 454.56Z" fill="#000"/>
<path d="M494.94 411.3L498.04 417.03L491.84 417.03Z" fill="#000"/>
<path d="M518.14 412.29L521.24 418.02L515.04 418.02Z" fill="#000"/>
<path d="M539.34 454.76L542.44 460.5L536.24 460.5Z" fill="#000"/>
<path d="M561.5 454.76L564.6 460.5L558.4 460.5Z" fill="#000"/>
<rect x="358.65" y="443.19" width="5.7" height="5.7" fill="#000"/>
<rect x="380.81" y="443.58" width="5.7" height="5.7" fill="#000"/>
<rect x="403.77" y="417.05" width="5.7" height="5.7" fill="#000"/>
<rect x="425.53" y="418.53" width="5.7" height="5.7" fill="#000"/>
<rect x="446.97" y="444.97" width="5.7" height="5.7" fill="#000"/>
<rect x="470.01" y="446.25" width="5.7" height="5.7" fill="#000"/>
<rect x="492.09" y="396.66" width="5.7" height="5.7" fill="#000"/>
<rect x="515.29" y="401.61" width="5.7" height="5.7" fill="#000"/>
<rect x="536.49" y="454.97" width="5.7" height="5.7" fill="#000"/>
<rect x="558.65" y="454.97" width="5.7" height="5.7" fill="#000"/>
<path d="M361.7 436.55L362.43 438.39L364.41 438.52L362.89 439.79L363.38 441.71L361.7 440.65L360.02 441.71L360.51 439.79L358.99 438.52L360.97 438.39Z" fill="#000"/>
<path d="M361.7 451.75L362.43 453.59L364.41 453.72L362.89 454.99L363.38 456.91L361.7 455.85L360.02 456.91L360.51 454.99L358.99 453.72L360.97 453.59Z" fill="#000"/>
<path d="M401.92 396.75L402.65 398.59L404.63 398.72L403.11 399.99L403.6 401.91L401.92 400.85L400.24 401.91L400.73 399.99L399.21 398.72L401.19 398.59ZM406.82 396.75L407.55 398.59L409.53 398.72L408.01 399.99L408.5 401.91L406.82 400.85L405.14 401.91L405.63 399.99L404.11 398.72L406.09 398.59ZM411.72 396.75L412.45 398.59L414.43 398.72L412.91 399.99L413.4 401.91L411.72 400.85L410.04 401.91L410.53 399.99L409.01 398.72L410.99 398.59Z" fill="#000"/>
<path d="M423.68 396.75L424.41 398.59L426.39 398.72L424.87 399.99L425.36 401.91L423.68 400.85L422 401.91L422.49 399.99L420.97 398.72L422.95 398.59ZM428.58 396.75L429.31 398.59L431.29 398.72L429.77 399.99L430.26 401.91L428.58 400.85L426.9 401.91L427.39 399.99L425.87 398.72L427.85 398.59ZM433.48 396.75L434.21 398.59L436.19 398.72L434.67 399.99L435.16 401.91L433.48 400.85L431.8 401.91L432.29 399.99L430.77 398.72L432.75 398.59Z" fill="#000"/>
<path d="M401.92 404.45L402.65 406.29L404.63 406.42L403.11 407.69L403.6 409.61L401.92 408.55L400.24 409.61L400.73 407.69L399.21 406.42L401.19 406.29ZM406.82 404.45L407.55 406.29L409.53 406.42L408.01 407.69L408.5 409.61L406.82 408.55L405.14 409.61L405.63 407.69L404.11 406.42L406.09 406.29ZM411.72 404.45L412.45 406.29L414.43 406.42L412.91 407.69L413.4 409.61L411.72 408.55L410.04 409.61L410.53 407.69L409.01 406.42L410.99 406.29Z" fill="#000"/>
<path d="M423.68 404.45L424.41 406.29L426.39 406.42L424.87 407.69L425.36 409.61L423.68 408.55L422 409.61L422.49 407.69L420.97 406.42L422.95 406.29ZM428.58 404.45L429.31 406.29L431.29 406.42L429.77 407.69L430.26 409.61L428.58 408.55L426.9 409.61L427.39 407.69L425.87 406.42L427.85 406.29ZM433.48 404.45L434.21 406.29L436.19 406.42L434.67 407.69L435.16 409.61L433.48 408.55L431.8 409.61L432.29 407.69L430.77 406.42L432.75 406.29Z" fill="#000"/>
<path d="M490.24 379.65L490.97 381.49L492.95 381.62L491.43 382.89L491.92 384.81L490.24 383.75L488.56 384.81L489.05 382.89L487.53 381.62L489.51 381.49ZM495.14 379.65L495.87 381.49L497.85 381.62L496.33 382.89L496.82 384.81L495.14 383.75L493.46 384.81L493.95 382.89L492.43 381.62L494.41 381.49ZM500.04 379.65L500.77 381.49L502.75 381.62L501.23 382.89L501.72 384.81L500.04 383.75L498.36 384.81L498.85 382.89L497.33 381.62L499.31 381.49Z" fill="#000"/>
<path d="M513.44 379.65L514.17 381.49L516.15 381.62L514.63 382.89L515.12 384.81L513.44 383.75L511.76 384.81L512.25 382.89L510.73 381.62L512.71 381.49ZM518.34 379.65L519.07 381.49L521.05 381.62L519.53 382.89L520.02 384.81L518.34 383.75L516.66 384.81L517.15 382.89L515.63 381.62L517.61 381.49ZM523.24 379.65L523.97 381.49L525.95 381.62L524.43 382.89L524.92 384.81L523.24 383.75L521.56 384.81L522.05 382.89L520.53 381.62L522.51 381.49Z" fill="#000"/>
<path d="M490.24 388.65L490.97 390.49L492.95 390.62L491.43 391.89L491.92 393.81L490.24 392.75L488.56 393.81L489.05 391.89L487.53 390.62L489.51 390.49ZM495.14 388.65L495.87 390.49L497.85 390.62L496.33 391.89L496.82 393.81L495.14 392.75L493.46 393.81L493.95 391.89L492.43 390.62L494.41 390.49ZM500.04 388.65L500.77 390.49L502.75 390.62L501.23 391.89L501.72 393.81L500.04 392.75L498.36 393.81L498.85 391.89L497.33 390.62L499.31 390.49Z" fill="#000"/>
<path d="M513.44 388.65L514.17 390.49L516.15 390.62L514.63 391.89L515.12 393.81L513.44 392.75L511.76 393.81L512.25 391.89L510.73 390.62L512.71 390.49ZM518.34 388.65L519.07 390.49L521.05 390.62L519.53 391.89L520.02 393.81L518.34 392.75L516.66 393.81L517.15 391.89L515.63 390.62L517.61 390.49ZM523.24 388.65L523.97 390.49L525.95 390.62L524.43 391.89L524.92 393.81L523.24 392.75L521.56 393.81L522.05 391.89L520.53 390.62L522.51 390.49Z" fill="#000"/>
<text x="372.6" y="457.6" font-size="9.4" font-weight="bold" text-anchor="middle">a.</text>
<text x="416.6" y="439.1" font-size="9.4" font-weight="bold" text-anchor="middle">b.</text>
<text x="463.4" y="416.2" font-size="9.4" font-weight="bold" text-anchor="middle">c.</text>
<text x="462.9" y="458.5" font-size="9.4" font-weight="bold" text-anchor="middle">d.</text>
<text x="507.6" y="439" font-size="9.4" font-weight="bold" text-anchor="middle">e.</text>
</svg></body></html>
